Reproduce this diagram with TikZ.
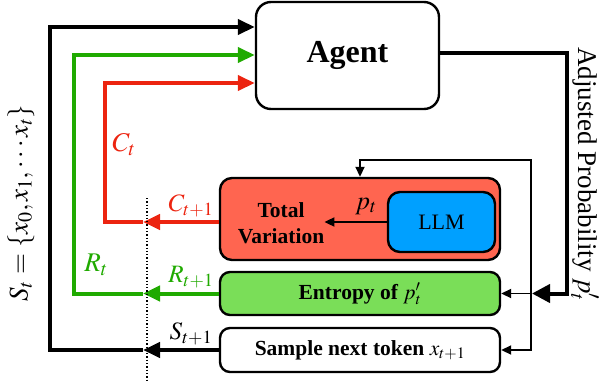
\documentclass[tikz,border=0pt]{standalone}
\usepackage{mathptmx}
\usepackage[no-math]{fontspec}
\setmainfont{Liberation Serif}
\usetikzlibrary{arrows.meta}
\definecolor{tvfill}{RGB}{255,101,80}
\definecolor{redline}{RGB}{236,36,16}
\definecolor{greenline}{RGB}{32,170,0}
\definecolor{entfill}{RGB}{122,222,88}
\definecolor{llmfill}{RGB}{0,160,255}
\begin{document}
\begin{tikzpicture}[x=1pt,y=-1pt,
  box/.style={draw=black,line width=2.4pt,inner sep=0pt,anchor=center},
  boxtext/.style={font=\fontsize{21.5}{26}\selectfont\bfseries},
  thickln/.style={line width=4pt},
  bighead/.style={-{Triangle[length=17pt,width=15pt]}},
  thinln/.style={line width=1.8pt,-{Triangle[length=10pt,width=9pt]}},
  lbl/.style={font=\fontsize{27}{30}\selectfont,inner sep=0pt},
  sublbl/.style={font=\fontsize{25}{28}\selectfont,inner sep=0pt}]
\useasboundingbox (0,0) rectangle (608,381);
% boxes
\node[box,rounded corners=15pt,minimum width=183pt,minimum height=107pt,fill=white,
  font=\fontsize{32}{36}\selectfont\bfseries] (agent) at (347.5,55.5) {Agent};
\node[box,rounded corners=12pt,minimum width=280pt,minimum height=82pt,fill=tvfill] (tv) at (360,219) {};
\node[box,rounded corners=12pt,minimum width=107pt,minimum height=60pt,fill=llmfill,
  font=\fontsize{22}{26}\selectfont] (llm) at (441.5,222) {LLM};
\node[boxtext,align=center,inner sep=0pt] (tvtext) at (281,223) {Total\\Variation};
\node[box,rounded corners=10pt,minimum width=280pt,minimum height=43pt,fill=entfill,boxtext] (ent) at (360,293.5) {Entropy of $p'_t$};
\node[box,rounded corners=10pt,minimum width=280pt,minimum height=44pt,fill=white,boxtext] (samp) at (360,350) {Sample next token $x_{t+1}$};
% coordinates
\coordinate (bk1) at (50,350);
\coordinate (bk2) at (50,27);
\coordinate (gr1) at (74,293.5);
\coordinate (gr2) at (74,55);
\coordinate (rd1) at (105,222);
\coordinate (rd2) at (105,83);
\coordinate (bkm) at (143,350);
\coordinate (grm) at (143,293.5);
\coordinate (rdm) at (143,222);
\coordinate (ap1) at (567,53);
\coordinate (ap2) at (567,293.5);
\coordinate (ap3) at (532,293.5);
\coordinate (th1) at (531,160);
\coordinate (th2) at (360,160);
\coordinate (th3) at (531,350);
% feedback lines
\draw[thickln,bighead] (samp.west) -- (bkm);
\draw[thickln,bighead] (bkm) -- (bk1) -- (bk2) -- (agent.west |- bk2);
\draw[thickln,bighead,greenline] (ent.west) -- (grm);
\draw[thickln,bighead,greenline] (grm) -- (gr1) -- (gr2) -- (agent.west |- gr2);
\draw[thickln,bighead,redline] (tv.west |- rd1) -- (rdm);
\draw[thickln,bighead,redline] (rdm) -- (rd1) -- (rd2) -- (agent.west |- rd2);
% agent output
\draw[thickln,-{Triangle[length=18pt,width=18pt]}] (agent.east |- ap1) -- (ap1) -- (ap2) -- (ap3);
% thin distribution lines
\draw[thinln] (th3) -- (th1) -- (th2) -- (tv.north -| th2);
\draw[thinln] (th1) -- (th3) -- (samp.east);
\draw[thinln] (ap3) -- (ent.east);
\draw[thinln] (llm.west) -- (tvtext.east |- llm.west);
% dotted line
\draw[dotted,line width=1.3pt] (147,198) -- (147,381);
% labels
\node[font=\fontsize{26}{28}\selectfont,inner sep=0pt] (pt) at (366,206) {$p_t$};
\node[lbl,text=redline] (ct) at (124,145) {$C_t$};
\node[lbl,text=greenline] (rt) at (96,265) {$R_t$};
\node[sublbl,text=redline] (ct1) at (191,206) {$C_{t+1}$};
\node[sublbl,text=greenline] (rt1) at (191,277) {$R_{t+1}$};
\node[sublbl] (st1) at (191,334) {$S_{t+1}$};
\node[lbl,rotate=90] (st) at (21,203) {$S_t=\{x_0,x_1,\cdots x_t\}$};
\node[font=\fontsize{27}{30}\selectfont,inner sep=0pt,rotate=-90] (adj) at (585,174) {Adjusted Probability $p'_t$};
\end{tikzpicture}
\end{document}
